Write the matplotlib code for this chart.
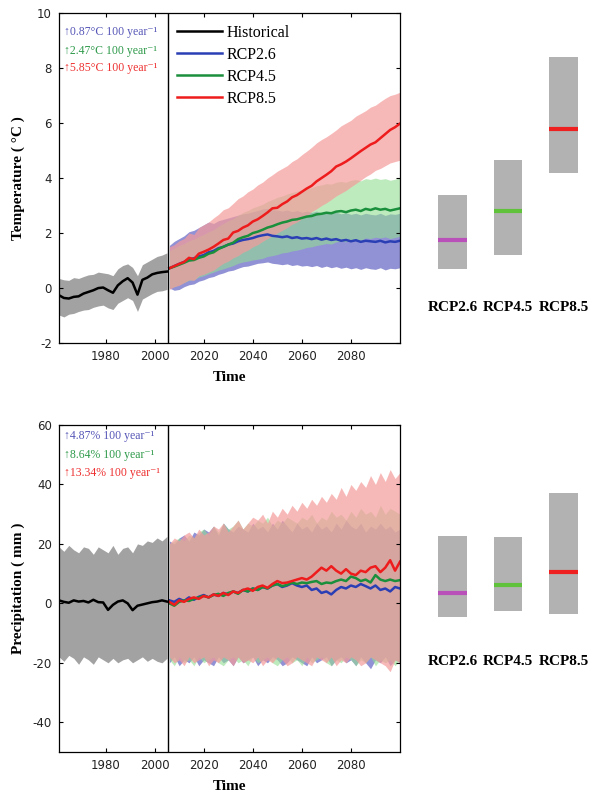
import numpy as np
import matplotlib
matplotlib.use('Agg')
import matplotlib.pyplot as plt

SERIF = ['Liberation Serif', 'DejaVu Serif']
plt.rcParams['axes.unicode_minus'] = False

# years (historical every 2 yr, scenarios every 2 yr)
hist_years = list(range(1961, 2006, 2))
rcp_years = list(range(2006, 2101, 2))

# ---------- temperature (degC) ----------
hist_t = [-0.26, -0.36, -0.38, -0.32, -0.30, -0.20, -0.14, -0.08,
          0.00, 0.02, -0.08, -0.17, 0.10, 0.25, 0.36, 0.20,
          -0.24, 0.30, 0.38, 0.50, 0.55, 0.58, 0.60]
hist_t_hi = [0.35, 0.30, 0.28, 0.38, 0.35, 0.42, 0.48, 0.50,
             0.58, 0.55, 0.52, 0.45, 0.70, 0.82, 0.88, 0.75,
             0.45, 0.85, 0.95, 1.05, 1.15, 1.20, 1.28]
hist_t_lo = [-0.98, -1.05, -0.95, -0.92, -0.85, -0.80, -0.78, -0.70,
             -0.65, -0.62, -0.72, -0.78, -0.55, -0.45, -0.35, -0.45,
             -0.85, -0.40, -0.30, -0.20, -0.12, -0.10, -0.05]

rcp26_t = [0.72, 0.80, 0.88, 0.95, 1.05, 1.08, 1.15, 1.20,
           1.30, 1.35, 1.45, 1.50, 1.58, 1.62, 1.70, 1.75,
           1.78, 1.82, 1.88, 1.92, 1.95, 1.90, 1.88, 1.85,
           1.88, 1.82, 1.85, 1.80, 1.82, 1.78, 1.82, 1.76,
           1.80, 1.75, 1.78, 1.72, 1.75, 1.70, 1.74, 1.68,
           1.72, 1.70, 1.68, 1.72, 1.66, 1.70, 1.68, 1.72]
rcp26_t_hi = [1.55, 1.70, 1.80, 1.90, 2.05, 2.10, 2.20, 2.30,
              2.40, 2.35, 2.45, 2.50, 2.55, 2.60, 2.65, 2.70,
              2.72, 2.78, 2.82, 2.88, 2.90, 2.85, 2.84, 2.80,
              2.84, 2.78, 2.82, 2.76, 2.80, 2.75, 2.80, 2.72,
              2.78, 2.72, 2.76, 2.70, 2.74, 2.68, 2.72, 2.66,
              2.72, 2.68, 2.66, 2.72, 2.64, 2.70, 2.68, 2.72]
rcp26_t_lo = [0.00, -0.08, -0.05, 0.05, 0.12, 0.15, 0.25, 0.30,
              0.38, 0.42, 0.50, 0.55, 0.62, 0.65, 0.72, 0.78,
              0.80, 0.85, 0.90, 0.92, 0.95, 0.90, 0.88, 0.85,
              0.88, 0.82, 0.85, 0.80, 0.82, 0.78, 0.82, 0.75,
              0.80, 0.74, 0.78, 0.72, 0.76, 0.70, 0.74, 0.68,
              0.74, 0.70, 0.68, 0.74, 0.66, 0.72, 0.70, 0.74]

rcp45_t = [0.72, 0.78, 0.85, 0.92, 1.00, 1.02, 1.10, 1.15,
           1.25, 1.30, 1.42, 1.50, 1.58, 1.65, 1.78, 1.85,
           1.90, 2.00, 2.05, 2.12, 2.20, 2.25, 2.32, 2.38,
           2.42, 2.48, 2.50, 2.55, 2.60, 2.62, 2.68, 2.70,
           2.74, 2.72, 2.78, 2.80, 2.76, 2.82, 2.85, 2.80,
           2.88, 2.84, 2.90, 2.85, 2.88, 2.82, 2.86, 2.90]
rcp45_t_hi = [1.35, 1.45, 1.55, 1.62, 1.72, 1.78, 1.88, 1.95,
              2.05, 2.12, 2.25, 2.35, 2.45, 2.52, 2.65, 2.75,
              2.82, 2.92, 2.98, 3.05, 3.15, 3.22, 3.30, 3.35,
              3.42, 3.48, 3.52, 3.58, 3.62, 3.65, 3.72, 3.75,
              3.80, 3.78, 3.85, 3.88, 3.85, 3.92, 3.95, 3.90,
              3.98, 3.95, 4.00, 3.95, 3.98, 3.92, 3.96, 4.00]
rcp45_t_lo = [0.00, 0.05, 0.12, 0.20, 0.28, 0.30, 0.40, 0.45,
              0.52, 0.58, 0.65, 0.70, 0.76, 0.82, 0.90, 0.95,
              0.98, 1.02, 1.05, 1.08, 1.15, 1.18, 1.22, 1.28,
              1.30, 1.35, 1.38, 1.42, 1.48, 1.50, 1.55, 1.58,
              1.62, 1.60, 1.68, 1.70, 1.68, 1.75, 1.78, 1.74,
              1.82, 1.80, 1.85, 1.82, 1.86, 1.80, 1.84, 1.88]

rcp85_t = [0.72, 0.80, 0.88, 0.95, 1.10, 1.05, 1.25, 1.32,
           1.40, 1.50, 1.62, 1.75, 1.80, 2.02, 2.08, 2.20,
           2.28, 2.42, 2.50, 2.62, 2.75, 2.90, 2.92, 3.05,
           3.15, 3.30, 3.38, 3.50, 3.62, 3.72, 3.88, 4.00,
           4.12, 4.25, 4.42, 4.50, 4.60, 4.72, 4.85, 4.98,
           5.10, 5.22, 5.30, 5.45, 5.60, 5.75, 5.85, 5.98]
rcp85_t_hi = [1.50, 1.58, 1.72, 1.80, 2.00, 1.95, 2.20, 2.30,
              2.40, 2.55, 2.68, 2.85, 2.92, 3.08, 3.25, 3.35,
              3.50, 3.60, 3.75, 3.85, 4.00, 4.12, 4.25, 4.35,
              4.45, 4.60, 4.70, 4.85, 4.98, 5.12, 5.28, 5.40,
              5.50, 5.62, 5.75, 5.90, 6.00, 6.10, 6.25, 6.35,
              6.45, 6.58, 6.65, 6.78, 6.90, 7.00, 7.05, 7.12]
rcp85_t_lo = [-0.05, 0.05, 0.10, 0.20, 0.30, 0.28, 0.45, 0.50,
              0.58, 0.65, 0.78, 0.90, 0.98, 1.10, 1.18, 1.30,
              1.38, 1.50, 1.58, 1.70, 1.80, 1.90, 2.00, 2.10,
              2.20, 2.32, 2.40, 2.52, 2.62, 2.78, 2.88, 3.00,
              3.10, 3.22, 3.35, 3.45, 3.55, 3.68, 3.80, 3.92,
              4.05, 4.15, 4.28, 4.35, 4.45, 4.55, 4.60, 4.65]

# ---------- precipitation (mm) ----------
hist_p = [1.0, 0.5, 0.2, 1.0, 0.6, 0.8, 0.3, 1.2,
          0.4, 0.3, -2.2, -0.5, 0.6, 1.0, 0.0, -2.3,
          -0.8, -0.4, 0.0, 0.4, 0.6, 1.0, 0.6]
hist_p_hi = [19.0, 17.5, 19.5, 18.0, 17.0, 19.0, 18.5, 16.5,
             19.0, 18.0, 17.0, 19.5, 16.5, 18.5, 19.0, 17.0,
             20.0, 19.5, 21.0, 20.5, 22.0, 21.0, 22.5]
hist_p_lo = [-18.0, -19.5, -17.5, -18.5, -20.5, -18.0, -19.0, -20.5,
             -18.0, -19.0, -20.0, -18.5, -20.0, -19.0, -18.5, -20.0,
             -19.0, -18.0, -19.5, -18.5, -19.5, -20.0, -18.5]

rcp26_p = [1.0, 0.5, 1.5, 0.8, 2.0, 1.2, 2.2, 2.8,
           2.0, 3.0, 2.5, 3.5, 3.0, 4.0, 3.5, 4.5,
           4.0, 5.0, 4.5, 5.5, 5.0, 6.0, 6.5, 5.5,
           6.0, 6.8, 6.0, 5.5, 6.0, 4.5, 5.0, 3.5,
           4.0, 3.0, 4.5, 5.5, 5.0, 6.0, 5.5, 6.5,
           5.8, 5.0, 6.0, 4.5, 5.0, 4.0, 5.5, 5.0]
rcp26_p_hi = [21, 20, 22, 23, 21, 24, 23, 25,
              24, 26, 23, 27, 25, 24, 26, 25,
              24, 27, 25, 26, 24, 27, 25, 28,
              26, 24, 27, 25, 26, 24, 27, 25,
              26, 24, 27, 25, 28, 26, 25, 27,
              24, 26, 25, 27, 25, 26, 24, 25]
rcp26_p_lo = [-20, -18, -21, -19, -20, -18, -21, -19,
              -20, -21, -18, -20, -19, -21, -18, -20,
              -19, -18, -21, -19, -20, -18, -19, -21,
              -20, -18, -19, -20, -21, -18, -20, -19,
              -18, -21, -19, -18, -20, -19, -21, -18,
              -20, -22, -19, -20, -18, -21, -19, -20]

rcp45_p = [0.0, -0.8, 0.5, 1.0, 0.8, 1.5, 2.0, 2.5,
           2.0, 2.8, 3.2, 2.5, 3.5, 4.0, 3.2, 4.5,
           4.0, 5.0, 4.5, 5.5, 5.0, 6.0, 6.5, 5.8,
           6.2, 7.0, 6.5, 7.0, 6.8, 7.2, 7.5, 6.5,
           7.0, 6.8, 7.5, 8.0, 7.5, 9.0, 8.5, 7.5,
           8.0, 7.0, 9.5, 8.0, 7.5, 8.0, 7.5, 7.8]
rcp45_p_hi = [20, 21, 22, 21, 23, 22, 24, 25,
              23, 26, 24, 27, 25, 26, 28, 25,
              27, 26, 28, 27, 29, 26, 28, 27,
              29, 28, 27, 29, 28, 30, 27, 29,
              28, 31, 29, 30, 28, 31, 29, 32,
              30, 31, 29, 33, 30, 32, 31, 30]
rcp45_p_lo = [-19, -21, -18, -20, -19, -21, -18, -20,
              -19, -18, -20, -21, -19, -18, -20, -19,
              -21, -18, -20, -19, -18, -20, -21, -19,
              -18, -20, -19, -21, -18, -20, -19, -18,
              -20, -21, -19, -20, -18, -19, -21, -19,
              -20, -18, -21, -19, -20, -19, -21, -19]

rcp85_p = [0.5, -0.5, 1.0, 0.5, 1.5, 2.0, 1.5, 2.5,
           2.0, 3.0, 2.5, 3.5, 2.8, 4.0, 3.5, 4.5,
           5.0, 4.2, 5.5, 6.0, 5.2, 6.5, 7.5, 6.8,
           7.0, 7.5, 8.0, 8.5, 8.0, 9.0, 10.5, 12.0,
           11.0, 12.5, 11.0, 10.0, 11.5, 10.0, 9.5, 11.0,
           10.5, 12.0, 12.5, 10.5, 12.0, 14.5, 11.0, 14.0]
rcp85_p_hi = [20, 22, 21, 23, 24, 22, 25, 23,
              24, 26, 25, 27, 24, 26, 28, 25,
              27, 29, 28, 30, 27, 31, 29, 32,
              30, 33, 31, 34, 32, 35, 33, 36,
              34, 37, 35, 39, 36, 40, 38, 41,
              39, 43, 40, 44, 41, 45, 42, 44]
rcp85_p_lo = [-18, -20, -19, -21, -18, -20, -19, -18,
              -21, -19, -20, -18, -19, -21, -18, -20,
              -19, -20, -18, -21, -19, -20, -18, -19,
              -21, -20, -18, -19, -20, -21, -18, -19,
              -20, -18, -21, -19, -20, -18, -19, -21,
              -20, -18, -19, -20, -21, -23, -19, -20]

# ---------- end-of-century ranges (right panels) ----------
scenarios = ['RCP2.6', 'RCP4.5', 'RCP8.5']
box_t_lo = [0.7, 1.2, 4.2]
box_t_hi = [3.4, 4.65, 8.4]
box_t_med = [1.75, 2.8, 5.8]
box_p_lo = [-4.5, -2.5, -3.5]
box_p_hi = [22.5, 22.2, 37.0]
box_p_med = [3.6, 6.3, 10.7]

trend_t = ['↑0.87°C 100 year⁻¹', '↑2.47°C 100 year⁻¹', '↑5.85°C 100 year⁻¹']
trend_p = ['↑4.87% 100 year⁻¹', '↑8.64% 100 year⁻¹', '↑13.34% 100 year⁻¹']

line_cols = {'hist': 'black', 'rcp26': '#2b3fb5', 'rcp45': '#1a8f3c', 'rcp85': '#ee1c1c'}
band_cols = {'rcp26': ('#3c3cb4', 0.56), 'rcp45': ('#93de93', 0.6), 'rcp85': ('#f59b9b', 0.7)}
text_cols = ['#5656b8', '#2e9a4a', '#ee3030']
med_cols = ['#b94fb9', '#5fc23a', '#ee2020']


def draw_series(ax, hist, hist_hi, hist_lo, rcps):
    ax.fill_between(hist_years, hist_lo, hist_hi, color='#a2a2a2', lw=0)
    for key, (m, hi, lo) in rcps.items():
        c, a = band_cols[key]
        ax.fill_between(rcp_years, lo, hi, color=c, alpha=a, lw=0)
    ax.plot(hist_years, hist, color=line_cols['hist'], lw=1.8, label='Historical')
    labels = {'rcp26': 'RCP2.6', 'rcp45': 'RCP4.5', 'rcp85': 'RCP8.5'}
    for key, (m, hi, lo) in rcps.items():
        ax.plot(rcp_years, m, color=line_cols[key], lw=1.8, label=labels[key])
    ax.axvline(2005.5, color='k', lw=1)
    ax.set_xlim(1961, 2100)
    ax.set_xticks([1980, 2000, 2020, 2040, 2060, 2080])
    ax.tick_params(direction='in', top=True, right=True, length=3, width=0.8,
                   labelsize=8.5, pad=5, labelcolor='#222222')
    for s in ax.spines.values():
        s.set_linewidth(0.9)
    ax.set_xlabel('Time', family=SERIF, fontweight='bold', fontsize=11, labelpad=6)


def draw_boxes(ax, lo, hi, med, ylim, label_y):
    pos = np.arange(len(scenarios))
    ax.bar(pos, np.array(hi) - np.array(lo), bottom=lo, width=0.52, color='#b2b2b2')
    for i in range(len(pos)):
        ax.plot([pos[i] - 0.26, pos[i] + 0.26], [med[i], med[i]], color=med_cols[i], lw=3,
                solid_capstyle='butt')
        ax.text(pos[i], label_y, scenarios[i], ha='center', va='center', family=SERIF,
                fontweight='bold', fontsize=11)
    ax.set_xlim(-0.766, 2.748)
    ax.set_ylim(*ylim)
    ax.axis('off')


fig = plt.figure(figsize=(6.05, 7.96), dpi=100)

# top: temperature
ax1 = fig.add_axes([0.0975, 0.569, 0.5636, 0.4146])
draw_series(ax1, hist_t, hist_t_hi, hist_t_lo,
            {'rcp26': (rcp26_t, rcp26_t_hi, rcp26_t_lo),
             'rcp45': (rcp45_t, rcp45_t_hi, rcp45_t_lo),
             'rcp85': (rcp85_t, rcp85_t_hi, rcp85_t_lo)})
ax1.set_ylim(-2, 10)
ax1.set_yticks([-2, 0, 2, 4, 6, 8, 10])
ax1.set_ylabel('Temperature ( °C )', family=SERIF, fontweight='bold', fontsize=11)
ax1.yaxis.set_label_coords(-0.1, 0.5)
for i, t in enumerate(trend_t):
    ax1.text(0.015, [0.942, 0.885, 0.833][i], t, transform=ax1.transAxes, color=text_cols[i],
             family=SERIF, fontsize=8.5, va='center')
ax1.legend(loc='upper left', bbox_to_anchor=(0.346, 0.964), frameon=False, borderpad=0,
           borderaxespad=0, handlelength=2.8, handletextpad=0.3, labelspacing=0.37,
           prop={'family': SERIF, 'size': 11.5})

# bottom: precipitation
ax2 = fig.add_axes([0.0975, 0.0553, 0.5636, 0.4108])
draw_series(ax2, hist_p, hist_p_hi, hist_p_lo,
            {'rcp26': (rcp26_p, rcp26_p_hi, rcp26_p_lo),
             'rcp45': (rcp45_p, rcp45_p_hi, rcp45_p_lo),
             'rcp85': (rcp85_p, rcp85_p_hi, rcp85_p_lo)})
ax2.set_ylim(-50, 60)
ax2.set_yticks([-40, -20, 0, 20, 40, 60])
ax2.set_ylabel('Precipitation ( mm )', family=SERIF, fontweight='bold', fontsize=11)
ax2.yaxis.set_label_coords(-0.1, 0.5)
for i, t in enumerate(trend_p):
    ax2.text(0.015, [0.966, 0.908, 0.853][i], t, transform=ax2.transAxes, color=text_cols[i],
             family=SERIF, fontsize=8.5, va='center')

# right: ranges for 2071-2100
ax3 = fig.add_axes([0.6777, 0.569, 0.3223, 0.4146])
draw_boxes(ax3, box_t_lo, box_t_hi, box_t_med, (-2, 10), -0.7)
ax4 = fig.add_axes([0.6777, 0.0553, 0.3223, 0.4108])
draw_boxes(ax4, box_p_lo, box_p_hi, box_p_med, (-50, 60), -19.4)

fig.savefig('out.png', dpi=100)
